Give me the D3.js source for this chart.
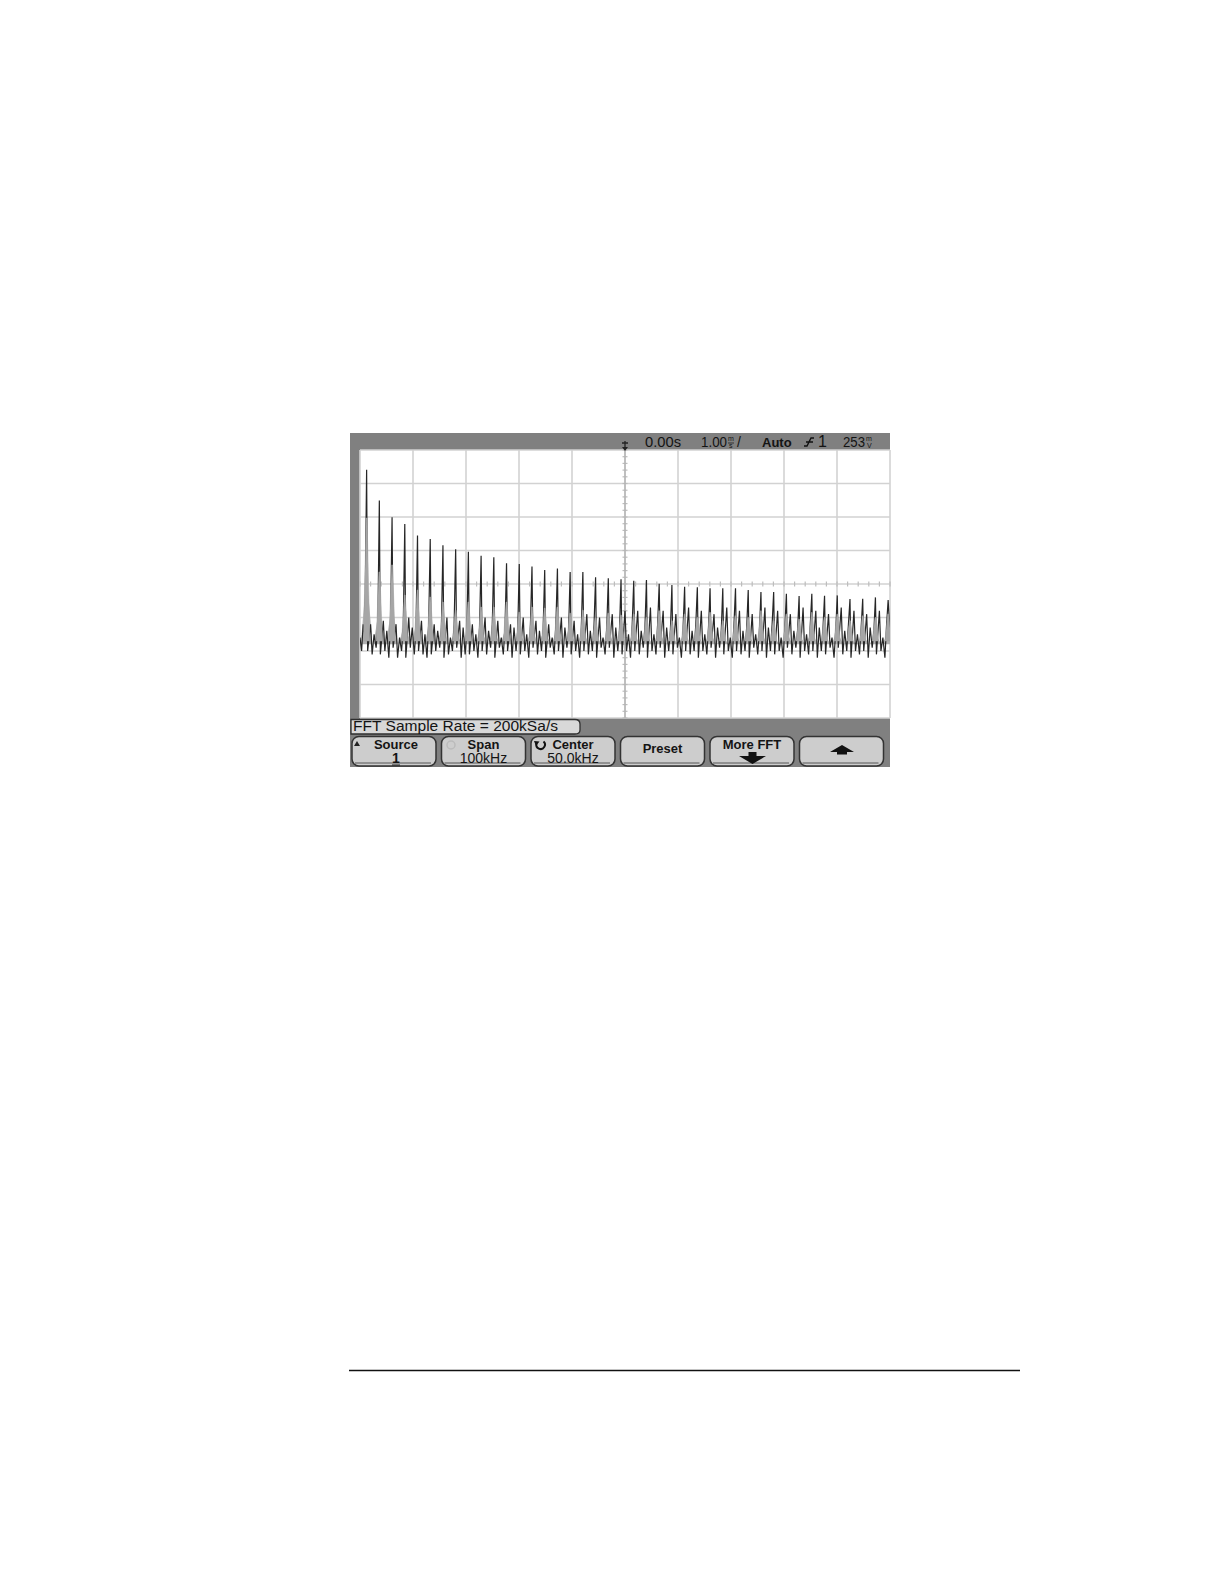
<!DOCTYPE html>
<html><head><meta charset="utf-8">
<script src="https://cdn.jsdelivr.net/npm/d3@7"></script>
<style>html,body{margin:0;padding:0;background:#fff;} svg{display:block;} text{font-family:"Liberation Sans",Arial,sans-serif;fill:#141414;}</style>
</head><body>
<svg id="c" width="1224" height="1584"></svg>
<script>
// ---------- data ----------
const xTicksKHz = [0,10,20,30,40,50,60,70,80,90,100];
const yTicksDb = [0,-10,-20,-30,-40,-50,-60,-70,-80];
const peakFreqKHz = [1.25,3.65,6.05,8.45,10.85,13.25,15.65,18.05,20.45,22.85,25.25,27.65,30.05,32.45,34.85,37.25,39.65,42.05,44.45,46.85,49.25,51.65,54.05,56.45,58.85,61.25,63.65,66.05,68.45,70.85,73.25,75.65,78.05,80.45,82.85,85.25,87.65,90.05,92.45,94.85,97.25,99.65];
const peakDb = [-5.9,-15.1,-20.1,-22.1,-25.5,-26.6,-28.4,-29.6,-30.4,-31.6,-32.0,-33.8,-34.0,-34.8,-35.8,-35.4,-36.4,-36.4,-38.0,-38.3,-38.6,-39.0,-38.8,-39.9,-40.3,-40.8,-41.0,-41.3,-41.3,-41.3,-41.8,-42.4,-42.4,-42.9,-43.6,-42.9,-43.5,-43.4,-44.5,-44.4,-44.0,-44.8];
const lobeDb = [-20.3,-36.4,-34.3,-43.3,-41.8,-43.9,-45.4,-47.8,-45.4,-46.9,-46.9,-45.4,-48.4,-46.9,-47.2,-46.9,-48.7,-47.8,-50.1,-48.7,-49.3,-49,-50,-48,-51,-49,-50,-48.5,-51,-49.5,-50,-48,-51,-49,-50.5,-48.5,-50,-49,-51,-49.5,-50,-49];
const noiseOffsetKHz = [0.19,0.75,1.04,1.41,1.79,2.11];
const noiseDb = [
 -60,-52,-61,-55,-59,-53,  -61,-51,-60,-54,-62,-52,  -59,-52,-62,-56,-60,-53,  -62,-50,-59,-53,-61,-54,
 -60,-51,-61,-55,-62,-52,  -61,-52,-60,-54,-59,-53,  -62,-50,-61,-56,-60,-52,  -59,-51,-62,-53,-61,-54,
 -61,-52,-60,-55,-62,-53,  -60,-50,-61,-54,-59,-52,  -62,-51,-59,-56,-61,-53,  -60,-52,-62,-53,-60,-54,
 -61,-50,-60,-55,-62,-52,  -59,-51,-61,-54,-60,-53,  -62,-52,-59,-56,-61,-52,  -60,-50,-62,-53,-59,-54,
 -61,-51,-60,-55,-62,-53,  -60,-49,-61,-54,-60,-52,  -62,-50,-59,-56,-61,-53,  -59,-49,-62,-53,-60,-54,
 -61,-48,-60,-55,-62,-52,  -60,-48,-61,-54,-59,-53,  -62,-47,-60,-55,-61,-52,  -59,-48,-62,-53,-60,-54,
 -61,-49,-59,-56,-62,-53,  -60,-47,-61,-54,-60,-52,  -62,-48,-60,-55,-61,-53,  -59,-49,-62,-53,-59,-54,
 -61,-47,-60,-56,-62,-52,  -60,-48,-61,-54,-60,-53,  -62,-49,-59,-55,-61,-54,  -60,-47,-62,-53,-60,-52,
 -61,-48,-60,-56,-62,-53,  -59,-49,-61,-54,-59,-54,  -62,-47,-60,-55,-61,-52,  -60,-48,-62,-53,-60,-53,
 -61,-49,-59,-56,-62,-54,  -59,-47,-61,-54,-60,-52,  -62,-48,-60,-55,-61,-53,  -60,-49,-62,-53,-59,-54,
 -61,-48,-60,-56,-62,-52
];
const leadFreqKHz = [0,0.3,0.6,0.9];
const leadDb = [-56,-60,-52,-56];
const tailFreqKHz = [100];
const tailDb = [-55];
const statusTexts = ["0.00s","1.00","Auto","1","253"];
const infoText = "FFT  Sample  Rate  =  200kSa/s";
const buttonLines1 = ["Source","Span","Center","Preset","More  FFT",""];
const buttonLines2 = ["1","100kHz","50.0kHz","","",""];

// ---------- layout ----------
const svg = d3.select("#c");
const L = 360, R = 890, T = 450, B = 718;
const x = d3.scaleLinear().domain([0,100]).range([L,R]);
const y = d3.scaleLinear().domain([0,-80]).range([T,B]);

svg.append("rect").attr("x",350).attr("y",433).attr("width",540).attr("height",334).attr("fill","#808080");
svg.append("rect").attr("x",L).attr("y",T).attr("width",R-L).attr("height",B-T).attr("fill","#fff");

const grid = svg.append("g").attr("stroke","#d2d2d2").attr("stroke-width",1.6);
grid.selectAll("line.v").data(xTicksKHz).join("line")
  .attr("x1",d=>x(d)).attr("x2",d=>x(d)).attr("y1",T).attr("y2",B);
grid.selectAll("line.h").data(yTicksDb).join("line")
  .attr("x1",L).attr("x2",R).attr("y1",d=>y(d)).attr("y2",d=>y(d));
const minorX = d3.range(0,100.01,2), minorY = d3.range(0,-80.01,-2);
const mt = svg.append("g").attr("stroke","#bdbdbd").attr("stroke-width",1.2);
mt.selectAll("line.mx").data(minorX).join("line")
  .attr("x1",d=>x(d)).attr("x2",d=>x(d)).attr("y1",y(-40)-2.5).attr("y2",y(-40)+2.5);
mt.selectAll("line.my").data(minorY).join("line")
  .attr("x1",x(50)-2.5).attr("x2",x(50)+2.5).attr("y1",d=>y(d)).attr("y2",d=>y(d));
svg.append("line").attr("x1",x(50)).attr("x2",x(50)).attr("y1",T).attr("y2",B).attr("stroke","#b4b4b4").attr("stroke-width",1.4);

svg.append("clipPath").attr("id","scr").append("rect").attr("x",L).attr("y",T).attr("width",R-L).attr("height",B-T);
const plot = svg.append("g").attr("clip-path","url(#scr)");

// broad gray skirts beneath the trace
const skirts = peakFreqKHz.map((f,i)=>[[f-1.1,-58],[f-0.2,(lobeDb[i]-57)/2-2],[f+0.2,(lobeDb[i]-57)/2-2],[f+1.1,-58]]);
plot.selectAll("path.skirt").data(skirts).join("path")
  .attr("d",d=>d3.line().x(p=>x(p[0])).y(p=>y(p[1]))(d)+"Z")
  .attr("fill","#b0b0b0");

// trace
const pts = [];
leadFreqKHz.forEach((f,i)=>pts.push([f,leadDb[i]]));
peakFreqKHz.forEach((f,k)=>{
  pts.push([f,peakDb[k]]);
  if (k < peakFreqKHz.length-1) noiseOffsetKHz.forEach((o,j)=>pts.push([f+o,noiseDb[k*6+j]]));
});
tailFreqKHz.forEach((f,i)=>pts.push([f,tailDb[i]]));
plot.append("path").attr("d",d3.line().x(p=>x(p[0])).y(p=>y(p[1]))(pts))
  .attr("fill","none").attr("stroke","#262626").attr("stroke-width",1.2).attr("stroke-linejoin","miter");

// narrow gray lobes over the lower part of each peak
const lobes = peakFreqKHz.map((f,i)=>[[f-0.6,-57],[f-0.08,lobeDb[i]],[f+0.08,lobeDb[i]],[f+0.6,-57]]);
plot.selectAll("path.lobe").data(lobes).join("path")
  .attr("d",d=>d3.line().x(p=>x(p[0])).y(p=>y(p[1]))(d)+"Z")
  .attr("fill","#a6a6a6").attr("stroke","#a6a6a6").attr("stroke-width",0.5);

// status bar
const sb = svg.append("g").attr("font-size",14);
svg.append("path").attr("d",`M${x(50)-3},443 L${x(50)+3},443 M${x(50)},441 L${x(50)},448`).attr("stroke","#222").attr("stroke-width",1.3).attr("fill","none");
svg.append("path").attr("d",`M${x(50)-3},447 L${x(50)+3},447 L${x(50)},451 Z`).attr("fill","#222");
sb.append("text").attr("x",645).attr("y",446.5).attr("textLength",36).attr("lengthAdjust","spacingAndGlyphs").text(statusTexts[0]);
sb.append("text").attr("x",701).attr("y",446.5).attr("textLength",26).attr("lengthAdjust","spacingAndGlyphs").text(statusTexts[1]);
sb.append("text").attr("x",728).attr("y",441).attr("font-size",7).text("m");
sb.append("text").attr("x",729).attr("y",447.5).attr("font-size",7).text("s");
sb.append("line").attr("x1",728).attr("x2",734).attr("y1",443).attr("y2",443).attr("stroke","#222").attr("stroke-width",0.8);
sb.append("text").attr("x",737).attr("y",446.5).text("/");
sb.append("text").attr("x",762).attr("y",446.5).attr("font-size",13).attr("font-weight","bold").text(statusTexts[2]);
svg.append("path").attr("d","M804,446 L807,446 L811,438 L814,438 M806,442 L813,442").attr("stroke","#111").attr("stroke-width",1.4).attr("fill","none");
sb.append("text").attr("x",818).attr("y",447).attr("font-size",16).text(statusTexts[3]);
sb.append("text").attr("x",843).attr("y",446.5).attr("textLength",22).attr("lengthAdjust","spacingAndGlyphs").text(statusTexts[4]);
sb.append("text").attr("x",866).attr("y",441).attr("font-size",7).text("m");
sb.append("text").attr("x",867).attr("y",447.5).attr("font-size",7).text("V");

svg.append("path").attr("d","M351,719.5 L575,719.5 Q580,719.5 580,724 L580,730 Q580,734 575,734 L351,734 Z")
  .attr("fill","#d8d8d8").attr("stroke","#2e2e2e").attr("stroke-width",1.3);
svg.append("text").attr("x",353).attr("y",731).attr("font-size",14).attr("textLength",205).attr("lengthAdjust","spacingAndGlyphs").text(infoText);

const bx = i => 352 + i*89.5, bw = 84;
const btn = svg.selectAll("g.btn").data(buttonLines1).join("g");
btn.append("rect").attr("x",(d,i)=>bx(i)).attr("y",736.5).attr("width",bw).attr("height",29.5).attr("rx",7)
  .attr("fill","#cdcdcd").attr("stroke","#333").attr("stroke-width",1.5);
btn.append("path").attr("d",(d,i)=>`M${bx(i)+3},763 L${bx(i)+bw-5},763`).attr("stroke","#555").attr("stroke-width",1);
btn.append("text").attr("x",(d,i)=>bx(i)+bw/2+(i===0?2:0)).attr("y",(d,i)=>i===3?753:748.5).attr("text-anchor","middle")
  .attr("font-size",13).attr("font-weight","bold").text(d=>d);
btn.append("text").attr("x",(d,i)=>bx(i)+bw/2+(i===0?2:0)).attr("y",762.5).attr("text-anchor","middle")
  .attr("font-size",14).attr("font-weight",(d,i)=>i===0?"bold":"normal").text((d,i)=>buttonLines2[i]);
svg.append("line").attr("x1",bx(0)+bw/2-2).attr("x2",bx(0)+bw/2+6).attr("y1",765).attr("y2",765).attr("stroke","#222").attr("stroke-width",1);
svg.append("path").attr("d","M354,746 L360,746 L357,741 Z").attr("fill","#222");
svg.append("circle").attr("cx",451).attr("cy",745).attr("r",4).attr("fill","none").attr("stroke","#bbb").attr("stroke-width",1.5);
svg.append("path").attr("d","M543.5,741.5 A4.3,4.3 0 1 1 536.5,743.5").attr("fill","none").attr("stroke","#111").attr("stroke-width",2);
svg.append("path").attr("d","M534,741 L539.5,741.5 L536,746 Z").attr("fill","#111");
svg.append("path").attr("d","M748.5,752 L756.5,752 L756.5,756 L766,756 L752.5,764 L739,756 L748.5,756 Z").attr("fill","#111");
svg.append("path").attr("d","M830,752 L842,745 L854,752 L847,752 L847,754.5 L837,754.5 L837,752 Z").attr("fill","#111");

svg.append("line").attr("x1",349).attr("x2",1020).attr("y1",1370.5).attr("y2",1370.5).attr("stroke","#111").attr("stroke-width",1.5);
</script>
</body></html>
